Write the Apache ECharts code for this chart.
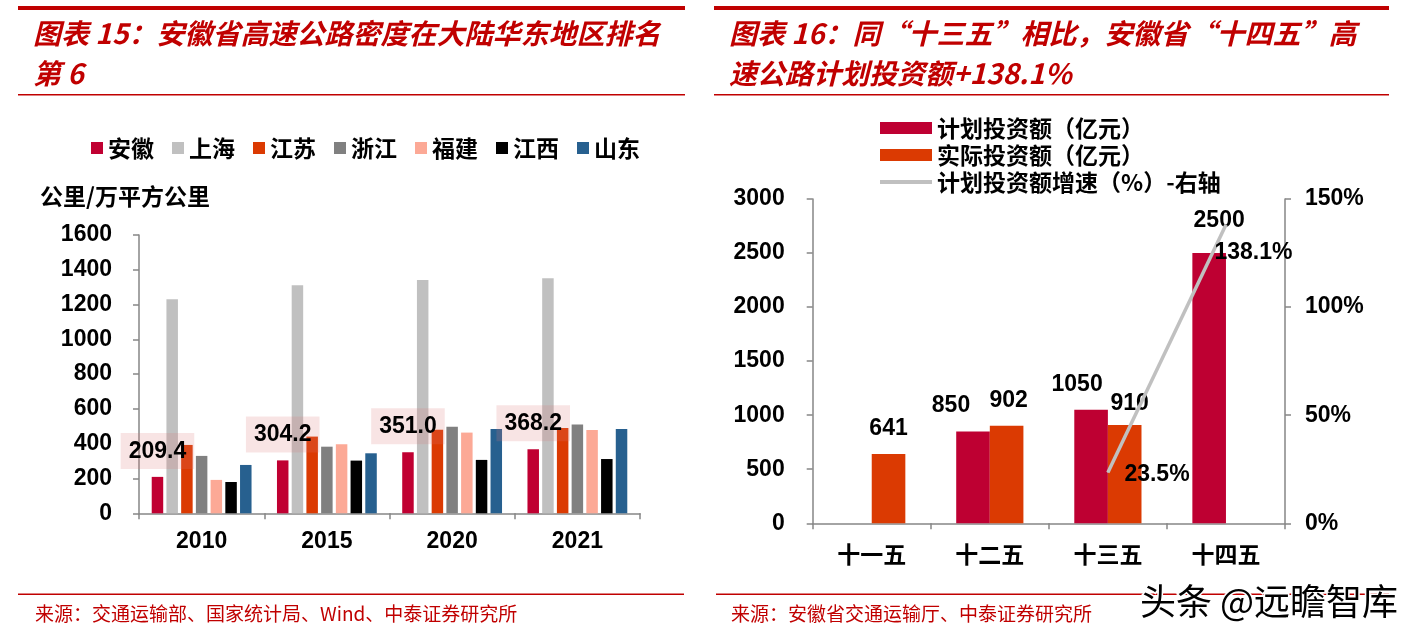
<!DOCTYPE html>
<html><head><meta charset="utf-8">
<script src="https://cdn.jsdelivr.net/npm/echarts@6.0.0/dist/echarts.min.js"></script>
<style>html,body{margin:0;padding:0;background:#fff;}#c{width:1420px;height:637px;}</style>
</head><body><div id="c"></div>
<script>
// ---- Left chart data: highway density (公里/万平方公里)
const years = ['2010', '2015', '2020', '2021'];
const provinces = ['安徽', '上海', '江苏', '浙江', '福建', '江西', '山东'];
const anhui    = [209.4, 304.2, 351.0, 368.2];
const shanghai = [1230, 1311, 1341, 1351];
const jiangsu  = [393, 441, 481, 490];
const zhejiang = [330, 383, 498, 510];
const fujian   = [192, 397, 464, 479];
const jiangxi  = [180, 303, 307, 312];
const shandong = [278, 345, 485, 485];
const densityTicks = {min: 0, max: 1600, interval: 200};

// ---- Right chart data: investment (亿元) and growth (%)
const periods = ['十一五', '十二五', '十三五', '十四五'];
const seriesNames = ['计划投资额（亿元）', '实际投资额（亿元）', '计划投资额增速（%）-右轴'];
const planned = [null, 850, 1050, 2500];
const actual  = [641, 902, 910, null];
const plannedGrowth = [null, null, 23.5, 138.1];
const investTicks = {min: 0, max: 3000, interval: 500};
const growthTicks = {min: 0, max: 150, interval: 50};

// ---- styling
const numFont = 'Liberation Sans, Arial, sans-serif';
const cjkFont = 'Noto Sans CJK SC, sans-serif';
const axisGray = '#868686';
const red = '#C00000';
const provColors = ['#C00032', '#C0C0C0', '#DB3A02', '#808080', '#FCA996', '#000000', '#27608F'];
const provValues = [anhui, shanghai, jiangsu, zhejiang, fujian, jiangxi, shandong];

const plannedLabelOffsets = [[0, 0], [-22, 0], [-14, 0], [10, -7]];
const actualLabelOffsets  = [[0, 0], [2, 0], [5, 4], [0, 0]];
const growthLabelOffsets  = [[0, 0], [0, 0], [0, 2], [-28, 28]];

const chart = echarts.init(document.getElementById('c'), null, {renderer: 'canvas'});

function axisCommon(extra) {
  return Object.assign({
    axisLine: {show: true, lineStyle: {color: axisGray, width: 1.5}},
    axisTick: {show: true, length: 6, lineStyle: {color: axisGray, width: 1.5}},
    splitLine: {show: false}
  }, extra);
}
const numLabel = (margin, extra) => Object.assign({fontSize: 23, fontWeight: 'bold', color: '#000', fontFamily: numFont, margin: margin,
  formatter: (v) => String(v)}, extra || {});

const leftSeries = provinces.map((p, i) => {
  const s = {
    name: p, type: 'bar', xAxisIndex: 0, yAxisIndex: 0,
    data: provValues[i], barWidth: 11.5, barGap: '28%',
    itemStyle: {color: provColors[i]}, z: 2
  };
  if (i === 0) {
    s.z = 3;
    s.label = {
      show: true, position: 'top', distance: 8,
      formatter: (q) => Number(q.value).toFixed(1),
      fontSize: 23, fontWeight: 'bold', fontFamily: numFont, color: '#000',
      backgroundColor: 'rgba(220,120,120,0.2)', padding: [7, 8, 6, 8]
    };
  }
  return s;
});

const toItems = (arr, offs) => arr.map((v, i) => v == null ? {value: '-'} : {value: v, label: {offset: offs[i]}});

const option = {
  animation: false,
  backgroundColor: '#fff',
  title: [
    {text: '图表 15：安徽省高速公路密度在大陆华东地区排名\n第 6', left: 33, top: 13, padding: 0,
     textStyle: {color: red, fontSize: 28, fontStyle: 'italic', fontWeight: 'bold', fontFamily: cjkFont, lineHeight: 40}},
    {text: '图表 16：同“十三五”相比，安徽省“十四五”高\n速公路计划投资额+138.1%', left: 729, top: 13, padding: 0,
     textStyle: {color: red, fontSize: 28, fontStyle: 'italic', fontWeight: 'bold', fontFamily: cjkFont, lineHeight: 40}},
    {text: '公里/万平方公里', left: 40, top: 185, padding: 0,
     textStyle: {color: '#000', fontSize: 23, fontWeight: 'bold', fontFamily: cjkFont}},
    {text: '来源：交通运输部、国家统计局、Wind、中泰证券研究所', left: 35, top: 603, padding: 0,
     textStyle: {color: red, fontSize: 19, fontWeight: 'normal', fontFamily: cjkFont, lineHeight: 22}},
    {text: '来源：安徽省交通运输厅、中泰证券研究所', left: 731, top: 603, padding: 0,
     textStyle: {color: red, fontSize: 19, fontWeight: 'normal', fontFamily: cjkFont, lineHeight: 22}},
    {text: '头条 @远瞻智库', left: 1140, top: 583, padding: 0, z: 10,
     textStyle: {color: '#000', fontSize: 36, fontWeight: 'normal', fontFamily: cjkFont,
                 textBorderColor: '#fff', textBorderWidth: 3}}
  ],
  graphic: [
    {type: 'rect', shape: {x: 18, y: 6, width: 667, height: 4}, style: {fill: red}, z: 0},
    {type: 'rect', shape: {x: 18, y: 94, width: 667, height: 1.5}, style: {fill: red}, z: 0},
    {type: 'rect', shape: {x: 714, y: 6, width: 675, height: 4}, style: {fill: red}, z: 0},
    {type: 'rect', shape: {x: 714, y: 94, width: 675, height: 1.5}, style: {fill: red}, z: 0},
    {type: 'rect', shape: {x: 18, y: 593.5, width: 666, height: 1.5}, style: {fill: red}, z: 0},
    {type: 'rect', shape: {x: 716, y: 593.5, width: 673, height: 1.5}, style: {fill: red}, z: 0}
  ],
  legend: [
    {data: provinces.map(p => ({name: p, icon: 'rect'})), left: 91, top: 136.5, padding: 0,
     itemWidth: 12, itemHeight: 12, itemGap: 18,
     textStyle: {fontSize: 23, fontWeight: 'bold', fontFamily: cjkFont, color: '#000'}},
    {data: [{name: seriesNames[0], icon: 'rect'}, {name: seriesNames[1], icon: 'rect'},
            {name: seriesNames[2], itemStyle: {opacity: 0}, lineStyle: {width: 4, color: '#C0C0C0'}}],
     orient: 'vertical', left: 878, top: 116.5, padding: 0,
     itemWidth: 52, itemHeight: 12, itemGap: 4,
     textStyle: {fontSize: 23, fontWeight: 'bold', fontFamily: cjkFont, color: '#000'}}
  ],
  grid: [
    {left: 139, top: 235, width: 501, height: 278.3, containLabel: false, outerBoundsMode: 'none'},
    {left: 812.7, top: 199, width: 472.3, height: 324.3, containLabel: false, outerBoundsMode: 'none'}
  ],
  xAxis: [
    axisCommon({type: 'category', gridIndex: 0, data: years, boundaryGap: true,
      axisLabel: numLabel(17)}),
    axisCommon({type: 'category', gridIndex: 1, data: periods, boundaryGap: true,
      axisLabel: {fontSize: 23, fontWeight: 'bold', color: '#000', fontFamily: cjkFont, margin: 19}})
  ],
  yAxis: [
    axisCommon({type: 'value', gridIndex: 0, min: densityTicks.min, max: densityTicks.max, interval: densityTicks.interval,
      axisLabel: numLabel(27)}),
    axisCommon({type: 'value', gridIndex: 1, min: investTicks.min, max: investTicks.max, interval: investTicks.interval,
      axisLabel: numLabel(28)}),
    axisCommon({type: 'value', gridIndex: 1, position: 'right', min: growthTicks.min, max: growthTicks.max, interval: growthTicks.interval,
      axisLabel: numLabel(20, {formatter: (v) => v + '%'})})
  ],
  series: leftSeries.concat([
    {name: seriesNames[0], type: 'bar', xAxisIndex: 1, yAxisIndex: 1, barWidth: 33.6, barGap: '0%',
     data: toItems(planned, plannedLabelOffsets), itemStyle: {color: '#BE0032'},
     label: {show: true, position: 'top', distance: 14, fontSize: 23, fontWeight: 'bold', fontFamily: numFont, color: '#000'}},
    {name: seriesNames[1], type: 'bar', xAxisIndex: 1, yAxisIndex: 1, barWidth: 33.6, barGap: '0%',
     data: toItems(actual, actualLabelOffsets), itemStyle: {color: '#DB3A02'},
     label: {show: true, position: 'top', distance: 14, fontSize: 23, fontWeight: 'bold', fontFamily: numFont, color: '#000'}},
    {name: seriesNames[2], type: 'line', xAxisIndex: 1, yAxisIndex: 2, z: 4,
     data: toItems(plannedGrowth, growthLabelOffsets),
     symbol: 'circle', symbolSize: 1, showSymbol: true,
     lineStyle: {color: '#C0C0C0', width: 3.5}, itemStyle: {color: '#C0C0C0'},
     label: {show: true, position: 'right', distance: 16, formatter: (q) => q.value + '%',
             fontSize: 23, fontWeight: 'bold', fontFamily: numFont, color: '#000'}}
  ])
};
chart.setOption(option);
</script></body></html>
